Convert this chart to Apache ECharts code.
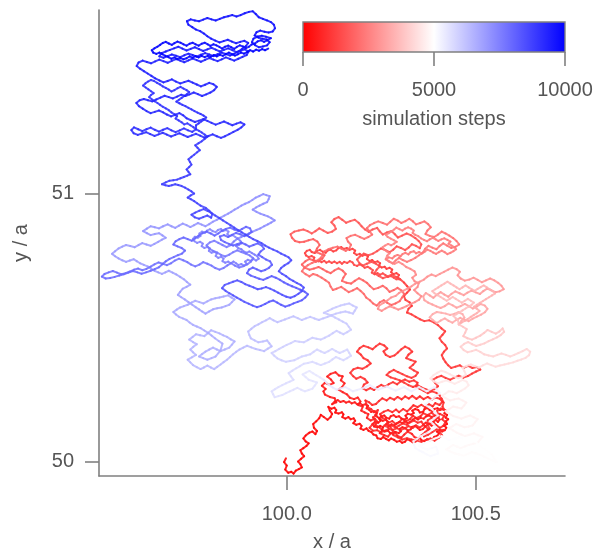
<!DOCTYPE html>
<html><head><meta charset="utf-8">
<script src="https://cdn.jsdelivr.net/npm/echarts@6/dist/echarts.min.js"></script>
<style>html,body{margin:0;padding:0;background:#fff}#chart{width:593px;height:550px}</style>
</head><body><div id="chart"></div>
<script>
// ---- axis / colorbar ticks ----
const xTicks = [100.0, 100.5];
const yTicks = [50, 51];
const colorbarTicks = [0, 5000, 10000];
const xRange = [99.5034, 100.736];
const yRange = [49.946, 51.685];
const stepRange = [0, 10000];

// ---- random-walk trajectory in phases (x / a, y / a) ----
// simulation step at the start of each phase (last value = end of simulation)
const phaseSteps = [0, 150, 1100, 2600, 3800, 4600, 5300, 5800, 6600, 7300, 8700, 8900, 10000];

const walkA = [[99.998,50.012],[99.993,49.998],[100.000,49.985],[99.996,49.970],[100.004,49.958],[100.012,49.962],[100.018,49.955],[100.024,49.966],[100.032,49.972],[100.040,49.978],[100.036,49.990],[100.030,50.000],[100.038,50.010],[100.046,50.020],[100.040,50.030],[100.036,50.042],[100.044,50.050],[100.052,50.058],[100.058,50.068],[100.050,50.075],[100.044,50.086],[100.050,50.097],[100.060,50.108],[100.068,50.112],[100.076,50.102],[100.080,50.114],[100.072,50.126],[100.070,50.140],[100.078,50.150],[100.086,50.162],[100.090,50.174],[100.098,50.166],[100.108,50.156],[100.116,50.166],[100.120,50.178],[100.114,50.190],[100.110,50.204]];

const tangleRedLow = [[100.118,50.197],[100.126,50.201],[100.131,50.192],[100.128,50.183],[100.137,50.179],[100.146,50.184],[100.150,50.176],[100.147,50.166],[100.155,50.160],[100.163,50.166],[100.169,50.158],[100.177,50.161],[100.181,50.152],[100.176,50.143],[100.184,50.137],[100.193,50.141],[100.198,50.133],[100.195,50.123],[100.203,50.118],[100.211,50.124],[100.216,50.115],[100.224,50.110],[100.229,50.101],[100.237,50.097],[100.240,50.087],[100.249,50.084],[100.255,50.091],[100.262,50.085],[100.270,50.079],[100.276,50.086],[100.284,50.081],[100.291,50.074],[100.299,50.077],[100.305,50.070],[100.313,50.074],[100.318,50.083],[100.326,50.079],[100.333,50.072],[100.341,50.075],[100.344,50.084],[100.352,50.088],[100.356,50.080],[100.364,50.076],[100.371,50.083],[100.378,50.079],[100.386,50.083],[100.390,50.092],[100.398,50.096],[100.403,50.105],[100.397,50.112],[100.405,50.118],[100.411,50.112],[100.418,50.117],[100.422,50.126],[100.417,50.134],[100.424,50.140],[100.421,50.150],[100.427,50.158],[100.420,50.164],[100.424,50.174],[100.417,50.180],[100.421,50.190],[100.413,50.196],[100.405,50.192],[100.399,50.199],[100.390,50.196],[100.386,50.187],[100.378,50.192],[100.372,50.200],[100.364,50.195],[100.361,50.186],[100.352,50.183],[100.348,50.192],[100.340,50.196],[100.332,50.190],[100.336,50.181],[100.329,50.175],[100.320,50.178],[100.314,50.171],[100.318,50.162],[100.311,50.156],[100.303,50.161],[100.297,50.169],[100.289,50.166],[100.283,50.173],[100.275,50.169],[100.271,50.160],[100.263,50.164],[100.258,50.172],[100.250,50.169],[100.244,50.161],[100.248,50.152],[100.242,50.145],[100.233,50.148],[100.227,50.140],[100.231,50.131],[100.240,50.127],[100.247,50.133],[100.255,50.128],[100.252,50.119],[100.259,50.112],[100.268,50.115],[100.273,50.107],[100.281,50.103],[100.288,50.110],[100.296,50.106],[100.302,50.113],[100.299,50.122],[100.306,50.128],[100.314,50.124],[100.320,50.116],[100.328,50.120],[100.331,50.129],[100.339,50.133],[100.346,50.126],[100.352,50.118],[100.360,50.121],[100.366,50.130],[100.361,50.138],[100.368,50.145],[100.376,50.141],[100.383,50.134],[100.390,50.139],[100.387,50.148],[100.394,50.155],[100.400,50.148],[100.405,50.157],[100.398,50.164],[100.391,50.170],[100.383,50.166],[100.376,50.172],[100.368,50.168],[100.362,50.160],[100.354,50.163],[100.347,50.157],[100.340,50.162],[100.333,50.156],[100.327,50.148],[100.319,50.144],[100.312,50.149],[100.305,50.143],[100.298,50.148],[100.291,50.142],[100.285,50.135],[100.277,50.139],[100.270,50.133],[100.263,50.139],[100.268,50.148],[100.262,50.156],[100.254,50.152],[100.247,50.158],[100.240,50.166],[100.234,50.173],[100.238,50.182],[100.231,50.188],[100.223,50.185],[100.218,50.193],[100.211,50.199],[100.215,50.208],[100.208,50.214],[100.200,50.210],[100.194,50.218],[100.186,50.214],[100.180,50.221],[100.172,50.217],[100.165,50.224],[100.157,50.220],[100.150,50.226],[100.142,50.222],[100.135,50.229],[100.127,50.224]];

const walkBmain = [[100.120,50.214],[100.131,50.221],[100.127,50.236],[100.114,50.241],[100.101,50.250],[100.097,50.262],[100.103,50.271],[100.093,50.283],[100.101,50.294],[100.113,50.286],[100.124,50.293],[100.117,50.306],[100.107,50.317],[100.116,50.327],[100.129,50.333],[100.138,50.321],[100.148,50.318],[100.143,50.303],[100.153,50.292],[100.147,50.279],[100.137,50.268],[100.148,50.259],[100.159,50.251],[100.167,50.238],[100.178,50.233],[100.188,50.239],[100.195,50.224],[100.189,50.211],[100.201,50.205],[100.197,50.190],
[100.206,50.183],[100.216,50.177],[100.212,50.163],[100.222,50.153],[100.233,50.160],[100.240,50.148],[100.234,50.136],[100.245,50.128],[100.253,50.117],[100.246,50.106],[100.258,50.098],[100.268,50.093],[100.275,50.105],[100.286,50.111],[100.292,50.097],[100.303,50.089],[100.311,50.101],[100.320,50.112],[100.331,50.103],[100.338,50.091],[100.349,50.086],[100.357,50.099],[100.366,50.109],[100.374,50.120],[100.367,50.132],[100.377,50.141],[100.388,50.147],[100.396,50.135],[100.405,50.126],[100.414,50.133],[100.420,50.147],[100.411,50.158],[100.416,50.170],[100.405,50.178],[100.393,50.171],[100.383,50.182],[100.372,50.173],[100.361,50.181],[100.354,50.169],[100.343,50.162],[100.334,50.171],[100.326,50.158],[100.316,50.151],[100.305,50.159],[100.298,50.147],[100.288,50.140],[100.279,50.151],[100.269,50.145],[100.262,50.157],[100.252,50.164],[100.247,50.177],[100.257,50.186],[100.268,50.192],[100.279,50.184],[100.289,50.194],[100.297,50.184],[100.308,50.196],[100.318,50.187],[100.327,50.198],[100.335,50.210],[100.346,50.203],[100.356,50.212],[100.366,50.203],[100.376,50.214],[100.386,50.206],[100.393,50.218],[100.404,50.211],[100.412,50.223],[100.405,50.234],[100.393,50.239],[100.384,50.231],[100.373,50.241],[100.362,50.233],[100.352,50.243],[100.343,50.234],[100.332,50.245],[100.323,50.235],[100.313,50.243],[100.304,50.232],[100.293,50.241],[100.284,50.231],[100.273,50.238],[100.264,50.228],[100.253,50.236],[100.244,50.226],[100.236,50.215],[100.226,50.211],[100.218,50.221],[100.208,50.228],[100.213,50.204],[100.223,50.196],[100.231,50.184],[100.241,50.192],[100.237,50.172],[100.228,50.165],
[100.236,50.146],[100.226,50.138],[100.219,50.126],[100.228,50.115],[100.239,50.117],[100.249,50.109],[100.260,50.115],[100.270,50.122],[100.281,50.118],[100.292,50.125],[100.300,50.116],[100.312,50.124],[100.322,50.132],[100.333,50.125],[100.342,50.135],[100.352,50.127],[100.362,50.137],[100.356,50.149],[100.346,50.145],[100.337,50.153],[100.326,50.146],[100.318,50.137],[100.308,50.142],[100.297,50.134],[100.287,50.128],[100.277,50.135],[100.268,50.128],[100.258,50.134],[100.266,50.143],[100.274,50.130],[100.280,50.116],[100.282,50.099],
[100.294,50.090],[100.305,50.082],[100.318,50.087],[100.330,50.082],[100.343,50.078],[100.356,50.074],[100.368,50.080],[100.380,50.086],[100.391,50.078],[100.402,50.088],[100.411,50.098],[100.404,50.110],[100.415,50.118],[100.396,50.120],[100.385,50.110],[100.374,50.100],[100.363,50.094],[100.370,50.108],[100.378,50.122],[100.372,50.138],[100.373,50.154],[100.382,50.162],[100.394,50.157],[100.402,50.166],[100.398,50.190],[100.408,50.198],[100.417,50.192],[100.412,50.205],[100.415,50.220],[100.410,50.234],
[100.405,50.246],[100.396,50.256],[100.384,50.262],[100.373,50.255],[100.362,50.264],[100.351,50.272],[100.341,50.281],[100.346,50.294],[100.336,50.303],[100.324,50.298],[100.313,50.306],[100.301,50.299],[100.292,50.288],[100.281,50.296],[100.270,50.289],[100.260,50.279],[100.250,50.286],[100.240,50.278],[100.231,50.267],[100.221,50.274],[100.210,50.266],[100.200,50.274],[100.204,50.287],[100.214,50.295],[100.206,50.308],[100.195,50.316],[100.184,50.309],[100.176,50.318],[100.168,50.331],[100.176,50.344],[100.188,50.350],[100.200,50.346],[100.212,50.355],[100.222,50.366],[100.214,50.378],[100.203,50.386],[100.196,50.399],[100.186,50.410],[100.193,50.423],[100.203,50.432],[100.216,50.426],[100.227,50.419],[100.236,50.430],[100.246,50.440],[100.258,50.433],[100.266,50.422],[100.256,50.411],[100.262,50.398],[100.273,50.390],[100.285,50.396],[100.294,50.407],[100.303,50.419],[100.313,50.429],[100.324,50.421],[100.332,50.410],[100.322,50.399],[100.316,50.386],[100.328,50.379],[100.341,50.373],[100.334,50.361],[100.325,50.350],[100.336,50.340],[100.347,50.332],[100.341,50.320],[100.330,50.312],[100.318,50.318],[100.306,50.326],[100.294,50.334],[100.283,50.342],[100.272,50.334],[100.264,50.323],[100.275,50.314],[100.287,50.309],[100.299,50.303],[100.311,50.294],[100.322,50.285],[100.334,50.278],[100.346,50.285],[100.356,50.277],[100.367,50.270],[100.379,50.264],[100.391,50.270],[100.400,50.281],[100.393,50.293],[100.386,50.305],[100.397,50.314],[100.409,50.320],[100.420,50.312],[100.432,50.305],[100.443,50.313],[100.455,50.320],[100.467,50.313],[100.479,50.319],[100.490,50.328],[100.501,50.336],[100.512,50.343],[100.503,50.353],[100.491,50.349],[100.480,50.357],[100.468,50.350],[100.458,50.359],[100.446,50.354],[100.435,50.349],[100.427,50.359],[100.420,50.371],[100.414,50.384],[100.410,50.397],[100.416,50.410],[100.424,50.422],[100.419,50.435],[100.410,50.447],[100.404,50.460],[100.412,50.473],[100.419,50.486],[100.409,50.497],[100.400,50.509],[100.389,50.519],[100.377,50.527],[100.364,50.524],[100.352,50.531],[100.341,50.540],[100.330,50.549],[100.318,50.556],[100.322,50.570],[100.331,50.581],[100.325,50.594],[100.314,50.603],[100.310,50.617],[100.318,50.630],[100.326,50.642],[100.318,50.655],[100.310,50.668]];

const tangleRedHigh = [[100.300,50.680],[100.293,50.687],[100.297,50.696],[100.290,50.703],[100.282,50.699],[100.276,50.707],[100.279,50.716],[100.272,50.723],[100.264,50.719],[100.259,50.727],[100.251,50.724],[100.244,50.731],[100.247,50.740],[100.240,50.747],[100.232,50.744],[100.226,50.752],[100.219,50.748],[100.212,50.756],[100.215,50.765],[100.208,50.772],[100.200,50.768],[100.193,50.775],[100.185,50.771],[100.178,50.778],[100.181,50.787],[100.174,50.794],[100.166,50.790],[100.159,50.797],[100.151,50.793],[100.144,50.800],[100.136,50.796],[100.131,50.788],[100.123,50.784],[100.116,50.791],[100.108,50.787],[100.103,50.779],[100.095,50.783],[100.088,50.790],[100.080,50.786],[100.074,50.778],[100.066,50.782],[100.061,50.790],[100.053,50.786],[100.048,50.778],[100.051,50.769],[100.058,50.763],[100.066,50.767],[100.073,50.761],[100.070,50.752],[100.077,50.746],[100.085,50.750],[100.092,50.744],[100.099,50.749],[100.105,50.742],[100.112,50.747],[100.119,50.741],[100.126,50.746],[100.133,50.740],[100.140,50.745],[100.146,50.738],[100.152,50.745],[100.160,50.741],[100.167,50.748],[100.174,50.743],[100.178,50.734],[100.186,50.730],[100.193,50.736],[100.200,50.731],[100.206,50.723],[100.214,50.727],[100.221,50.721],[100.228,50.714],[100.225,50.705],[100.232,50.699],[100.240,50.703],[100.247,50.697],[100.254,50.702],[100.261,50.696],[100.268,50.689],[100.276,50.692],[100.283,50.686],[100.290,50.680]];

const walkCmain = [[100.300,50.680],[100.289,50.689],[100.277,50.697],[100.266,50.690],[100.254,50.684],[100.243,50.693],[100.232,50.703],[100.238,50.716],[100.246,50.728],[100.236,50.738],[100.224,50.745],[100.212,50.738],[100.201,50.731],[100.192,50.741],[100.186,50.754],[100.194,50.766],[100.204,50.776],[100.216,50.770],[100.228,50.776],[100.239,50.785],[100.249,50.795],[100.261,50.789],[100.272,50.781],[100.282,50.791],[100.291,50.803],[100.302,50.797],[100.313,50.789],[100.323,50.799],[100.331,50.811],[100.342,50.805],[100.352,50.796],[100.356,50.810],[100.349,50.823],[100.340,50.834],[100.328,50.845],[100.317,50.851],[100.305,50.843],[100.294,50.836],[100.286,50.848],[100.277,50.860],[100.265,50.855],[100.254,50.847],[100.246,50.859],[100.239,50.872],[100.227,50.866],[100.217,50.857],[100.207,50.866],[100.198,50.878],[100.190,50.891],[100.180,50.902],[100.168,50.897],[100.157,50.891],[100.147,50.902],[100.137,50.912],[100.126,50.905],[100.118,50.893],[100.126,50.881],[100.130,50.868],[100.120,50.858],[100.108,50.853],[100.097,50.862],[100.086,50.870],[100.076,50.860],[100.066,50.851],[100.055,50.860],[100.044,50.866],[100.032,50.862],[100.020,50.858],[100.010,50.848],[100.014,50.835],[100.022,50.823],[100.034,50.818],[100.046,50.820],[100.058,50.826],[100.070,50.830],[100.081,50.821],[100.087,50.808],[100.080,50.795],[100.076,50.782],[100.088,50.776],[100.100,50.770],[100.094,50.757],[100.084,50.747],[100.072,50.750],[100.060,50.756],[100.049,50.747],[100.040,50.735],[100.048,50.723],[100.060,50.716],[100.072,50.720],[100.084,50.726],[100.095,50.718],[100.106,50.709],[100.116,50.703],[100.126,50.713],[100.137,50.721],[100.148,50.712],[100.156,50.700],[100.150,50.687],[100.146,50.674],[100.158,50.667],[100.170,50.664],[100.180,50.674],[100.191,50.684],[100.202,50.676],[100.212,50.667],[100.220,50.655],[100.230,50.643],[100.242,50.648],[100.254,50.656],[100.264,50.646],[100.272,50.633],[100.283,50.640],[100.293,50.648],[100.304,50.638],[100.311,50.625],[100.305,50.612],[100.299,50.599],[100.288,50.590],[100.277,50.584],[100.266,50.592],[100.257,50.602],[100.246,50.594],[100.238,50.582],[100.228,50.590],[100.220,50.602],[100.210,50.612],[100.204,50.625],[100.195,50.637],[100.186,50.647],[100.175,50.639],[100.164,50.632],[100.154,50.642],[100.144,50.652],[100.132,50.645],[100.122,50.640],[100.116,50.653],[100.112,50.667],[100.102,50.677],[100.092,50.686],[100.081,50.695],[100.070,50.700],[100.060,50.691],[100.050,50.699],[100.040,50.710],[100.046,50.722],[100.056,50.733],[100.067,50.741],[100.078,50.748],[100.089,50.758],[100.095,50.771],[100.099,50.784],[100.110,50.792],[100.122,50.798],[100.134,50.802],[100.145,50.794],[100.156,50.786],[100.166,50.796],[100.170,50.809],[100.162,50.821],[100.158,50.834],[100.169,50.842],[100.181,50.846],[100.193,50.838],[100.205,50.831],[100.216,50.838],[100.226,50.847],[100.219,50.859],[100.212,50.871],[100.220,50.882],[100.231,50.890],[100.242,50.896],[100.254,50.890],[100.265,50.884],[100.274,50.895],[100.283,50.906],[100.294,50.899],[100.303,50.890],[100.314,50.897],[100.324,50.906],[100.334,50.896],[100.342,50.885],[100.353,50.890],[100.364,50.896],[100.374,50.886],[100.381,50.874],[100.372,50.862],[100.367,50.849],[100.378,50.842],[100.390,50.838],[100.400,50.847],[100.410,50.858],[100.420,50.851],[100.430,50.843],[100.440,50.834],[100.449,50.823],[100.456,50.810],[100.446,50.801],[100.435,50.797],[100.424,50.806],[100.414,50.814],[100.404,50.804],[100.396,50.792],[100.385,50.798],[100.375,50.805],[100.366,50.794],[100.360,50.780],[100.350,50.770],[100.340,50.760],[100.329,50.752],[100.318,50.745],[100.307,50.752],[100.297,50.760],[100.288,50.750],[100.280,50.739],[100.270,50.747],[100.262,50.755]];

const tangleRedEast = [[100.270,50.762],[100.279,50.758],[100.285,50.766],[100.293,50.771],[100.301,50.766],[100.306,50.774],[100.314,50.779],[100.322,50.773],[100.327,50.781],[100.336,50.785],[100.342,50.777],[100.350,50.782],[100.357,50.776],[100.365,50.783],[100.372,50.791],[100.380,50.786],[100.387,50.780],[100.395,50.775],[100.402,50.781],[100.410,50.787],[100.418,50.781],[100.425,50.774],[100.433,50.779],[100.441,50.785],[100.448,50.792],[100.443,50.800],[100.436,50.806],[100.428,50.813],[100.433,50.821],[100.425,50.827],[100.417,50.833],[100.409,50.829],[100.401,50.823],[100.394,50.829],[100.386,50.835],[100.378,50.829],[100.371,50.822],[100.363,50.827],[100.355,50.833],[100.348,50.841],[100.340,50.846],[100.333,50.853],[100.336,50.862],[100.329,50.869],[100.321,50.874],[100.313,50.869],[100.306,50.862],[100.298,50.867],[100.290,50.873],[100.284,50.866],[100.277,50.859],[100.270,50.852],[100.262,50.846],[100.267,50.838],[100.275,50.832],[100.283,50.826],[100.291,50.820],[100.284,50.813],[100.276,50.807],[100.268,50.812],[100.260,50.806],[100.253,50.799],[100.258,50.791],[100.265,50.784],[100.272,50.777],[100.266,50.769],[100.262,50.755]];

const walkDmain = [[100.262,50.755],[100.273,50.745],[100.285,50.738],[100.296,50.745],[100.306,50.737],[100.316,50.726],[100.327,50.719],[100.338,50.710],[100.342,50.697],[100.332,50.686],[100.338,50.673],[100.349,50.665],[100.346,50.651],[100.337,50.640],[100.346,50.628],[100.356,50.617],[100.350,50.604],[100.339,50.595],[100.328,50.588],[100.317,50.580],[100.306,50.573],[100.295,50.567],[100.284,50.574],[100.272,50.579],[100.261,50.571],[100.251,50.562],[100.241,50.570],[100.245,50.583],[100.256,50.592],[100.266,50.601],[100.276,50.612],[100.288,50.618],[100.297,50.629],[100.308,50.637],[100.319,50.645],[100.330,50.654],[100.340,50.664],[100.352,50.671],[100.363,50.679],[100.372,50.690],[100.383,50.698],[100.394,50.692],[100.405,50.700],[100.416,50.708],[100.427,50.716],[100.438,50.724],[100.449,50.718],[100.458,50.708],[100.452,50.695],[100.460,50.683],[100.471,50.675],[100.483,50.679],[100.494,50.686],[100.505,50.678],[100.516,50.669],[100.527,50.676],[100.538,50.683],[100.549,50.676],[100.559,50.667],[100.568,50.656],[100.574,50.643],[100.563,50.635],[100.552,50.632],[100.541,50.639],[100.530,50.645],[100.520,50.636],[100.511,50.625],[100.500,50.631],[100.489,50.638],[100.478,50.630],[100.468,50.621],[100.457,50.628],[100.446,50.635],[100.436,50.626],[100.427,50.615],[100.417,50.623],[100.407,50.632],[100.397,50.622],[100.388,50.611],[100.378,50.620],[100.368,50.629],[100.361,50.616],[100.364,50.602],[100.374,50.593],[100.385,50.586],[100.396,50.579],[100.407,50.573],[100.418,50.580],[100.428,50.590],[100.439,50.583],[100.449,50.574],[100.460,50.580],[100.471,50.588],[100.482,50.580],[100.492,50.571],[100.503,50.579],[100.513,50.588],[100.524,50.582],[100.531,50.570],[100.524,50.557],[100.514,50.548],[100.503,50.541],[100.492,50.533],[100.481,50.524],[100.470,50.529],[100.459,50.536],[100.448,50.528],[100.438,50.518],[100.428,50.525],[100.418,50.534],[100.407,50.526],[100.397,50.517],[100.387,50.527],[100.378,50.538],[100.386,50.550],[100.397,50.558],[100.409,50.555],[100.421,50.552],[100.432,50.547],[100.443,50.551],[100.454,50.557],[100.465,50.550],[100.470,50.537],[100.462,50.525],[100.455,50.512]];

const tanglePink = [[100.463,50.519],[100.471,50.525],[100.479,50.532],[100.487,50.540],[100.495,50.547],[100.503,50.554],[100.510,50.562],[100.503,50.570],[100.495,50.577],[100.503,50.585],[100.511,50.592],[100.519,50.599],[100.527,50.606],[100.535,50.613],[100.543,50.620],[100.551,50.627],[100.545,50.636],[100.537,50.643],[100.529,50.650],[100.521,50.657],[100.513,50.651],[100.505,50.644],[100.497,50.637],[100.489,50.643],[100.481,50.650],[100.473,50.657],[100.465,50.650],[100.457,50.643],[100.449,50.650],[100.441,50.657],[100.433,50.664],[100.425,50.671],[100.417,50.664],[100.409,50.657],[100.401,50.650],[100.393,50.643],[100.385,50.636],[100.391,50.628],[100.399,50.621],[100.407,50.614],[100.415,50.607],[100.423,50.600],[100.431,50.607],[100.439,50.614],[100.447,50.607],[100.455,50.600],[100.463,50.593],[100.471,50.600],[100.479,50.607],[100.487,50.600],[100.495,50.593],[100.489,50.585],[100.481,50.578],[100.473,50.571],[100.465,50.564],[100.457,50.557],[100.449,50.550],[100.441,50.543],[100.447,50.535],[100.453,50.526],[100.455,50.512]];

const walkE = [[100.455,50.512],[100.466,50.503],[100.476,50.494],[100.472,50.481],[100.467,50.468],[100.478,50.460],[100.490,50.455],[100.501,50.462],[100.512,50.470],[100.522,50.480],[100.531,50.491],[100.542,50.484],[100.553,50.477],[100.563,50.486],[100.571,50.497],[100.575,50.484],[100.566,50.472],[100.556,50.463],[100.545,50.456],[100.534,50.449],[100.523,50.441],[100.512,50.436],[100.501,50.431],[100.490,50.438],[100.480,50.446],[100.469,50.439],[100.460,50.428],[100.468,50.416],[100.478,50.408],[100.490,50.412],[100.501,50.417],[100.512,50.409],[100.522,50.400],[100.534,50.396],[100.546,50.392],[100.557,50.398],[100.568,50.403],[100.580,50.398],[100.591,50.392],[100.602,50.398],[100.613,50.405],[100.624,50.412],[100.635,50.420],[100.644,50.410],[100.641,50.397],[100.632,50.387],[100.621,50.381],[100.610,50.376],[100.599,50.370],[100.587,50.366],[100.576,50.362],[100.564,50.358],[100.552,50.354],[100.541,50.360],[100.530,50.366],[100.519,50.359],[100.509,50.351],[100.498,50.356],[100.487,50.362],[100.476,50.357],[100.465,50.350],[100.470,50.337],[100.474,50.324],[100.464,50.315],[100.453,50.311],[100.442,50.318],[100.431,50.326],[100.420,50.334],[100.409,50.339],[100.398,50.331],[100.388,50.322],[100.380,50.310],[100.389,50.299],[100.400,50.292],[100.411,50.298],[100.422,50.303],[100.433,50.297],[100.444,50.290],[100.455,50.297],[100.465,50.305],[100.476,50.298],[100.481,50.285],[100.472,50.273]];

const walkF = [[100.472,50.273],[100.461,50.264],[100.450,50.255],[100.439,50.260],[100.428,50.262],[100.419,50.253],[100.410,50.245],[100.421,50.236],[100.432,50.228],[100.443,50.232],[100.455,50.235],[100.465,50.228],[100.475,50.220],[100.469,50.209],[100.462,50.198],[100.451,50.202],[100.440,50.205],[100.430,50.196],[100.420,50.188],[100.430,50.179],[100.440,50.170],[100.451,50.165],[100.462,50.160],[100.473,50.166],[100.485,50.172],[100.495,50.165],[100.505,50.158],[100.498,50.146],[100.492,50.135],[100.481,50.131],[100.470,50.128],[100.459,50.134],[100.448,50.140],[100.439,50.132],[100.430,50.125],[100.440,50.116],[100.450,50.108],[100.461,50.101],[100.472,50.095],[100.483,50.100],[100.495,50.105],[100.506,50.098],[100.518,50.092],[100.511,50.081],[100.505,50.070],[100.493,50.066],[100.482,50.062],[100.471,50.056],[100.460,50.050],[100.450,50.056],[100.440,50.062],[100.431,50.053],[100.422,50.045],[100.433,50.037],[100.445,50.030],[100.456,50.026],[100.468,50.022],[100.479,50.028],[100.490,50.035],[100.501,50.030],[100.512,50.025],[100.523,50.017],[100.535,50.010],[100.545,50.004],[100.555,49.998],[100.548,50.014],[100.540,50.030],[100.530,50.040],[100.520,50.050],[100.509,50.062],[100.498,50.075],[100.486,50.079],[100.475,50.082],[100.465,50.086],[100.455,50.090],[100.443,50.085],[100.430,50.080],[100.420,50.088],[100.410,50.095],[100.400,50.090],[100.390,50.085],[100.379,50.078],[100.368,50.070],[100.359,50.064],[100.350,50.058],[100.361,50.051],[100.372,50.045],[100.384,50.050],[100.395,50.055],[100.398,50.042],[100.400,50.030],[100.390,50.025],[100.380,50.020],[100.370,50.027],[100.360,50.035],[100.350,50.042],[100.340,50.050],[100.337,50.062],[100.335,50.075],[100.345,50.085],[100.355,50.095],[100.365,50.102],[100.375,50.110],[100.385,50.119],[100.395,50.128],[100.388,50.139],[100.380,50.150],[100.390,50.161],[100.400,50.172],[100.392,50.184],[100.385,50.195],[100.375,50.204],[100.365,50.212],[100.375,50.222],[100.385,50.232],[100.395,50.244],[100.405,50.255],[100.398,50.267],[100.390,50.278],[100.380,50.270],[100.370,50.262],[100.360,50.270],[100.350,50.278],[100.340,50.270],[100.330,50.262]];

const walkG = [[100.330,50.262],[100.320,50.270],[100.310,50.278],[100.299,50.271],[100.288,50.265],[100.276,50.272],[100.265,50.280],[100.253,50.274],[100.242,50.268],[100.231,50.276],[100.220,50.285],[100.209,50.278],[100.198,50.272],[100.186,50.267],[100.175,50.262],[100.165,50.270],[100.155,50.278],[100.143,50.273],[100.132,50.268],[100.122,50.276],[100.112,50.285],[100.105,50.295],[100.098,50.305],[100.088,50.314],[100.078,50.322],[100.069,50.330],[100.060,50.338],[100.051,50.332],[100.042,50.325],[100.050,50.315],[100.058,50.305],[100.069,50.300],[100.080,50.295],[100.074,50.283],[100.068,50.272],[100.058,50.267],[100.048,50.262],[100.038,50.268],[100.028,50.275],[100.018,50.268],[100.008,50.262],[99.998,50.255],[99.988,50.248],[99.978,50.244],[99.968,50.240],[99.964,50.251],[99.960,50.262],[99.969,50.270],[99.978,50.278],[99.988,50.285],[99.998,50.292],[100.008,50.298],[100.018,50.305],[100.011,50.318],[100.005,50.330],[100.015,50.339],[100.025,50.348],[100.035,50.356],[100.045,50.365],[100.056,50.368],[100.068,50.372],[100.079,50.366],[100.090,50.360],[100.101,50.366],[100.112,50.372],[100.121,50.381],[100.130,50.390],[100.140,50.384],[100.150,50.378]];

const walkH = [[100.150,50.378],[100.160,50.386],[100.170,50.395],[100.165,50.406],[100.160,50.418],[100.150,50.411],[100.140,50.405],[100.130,50.412],[100.120,50.420],[100.110,50.412],[100.100,50.405],[100.090,50.411],[100.080,50.418],[100.071,50.409],[100.062,50.400],[100.051,50.396],[100.040,50.392],[100.030,50.385],[100.020,50.378],[100.009,50.375],[99.998,50.372],[99.986,50.378],[99.975,50.385],[99.967,50.395],[99.960,50.405],[99.970,50.412],[99.980,50.420],[99.990,50.428],[100.000,50.435],[100.011,50.442],[100.022,50.450],[100.033,50.447],[100.045,50.445],[100.056,50.453],[100.068,50.462],[100.079,50.458],[100.090,50.455],[100.101,50.462],[100.112,50.470],[100.122,50.479],[100.132,50.488],[100.141,50.481],[100.150,50.475],[100.160,50.483],[100.170,50.492],[100.164,50.503],[100.158,50.515],[100.148,50.522],[100.138,50.530],[100.128,50.537],[100.118,50.545],[100.108,50.550],[100.098,50.555],[100.109,50.562],[100.120,50.570],[100.131,50.576],[100.142,50.582],[100.153,50.586],[100.165,50.590],[100.175,50.582],[100.185,50.575],[100.180,50.563],[100.175,50.552],[100.165,50.556],[100.155,50.560],[100.142,50.556],[100.130,50.552],[100.119,50.546],[100.108,50.540],[100.096,50.534],[100.085,50.528],[100.073,50.534],[100.062,50.540],[100.051,50.534],[100.040,50.528],[100.029,50.535],[100.018,50.542],[100.006,50.536],[99.995,50.530],[99.985,50.525],[99.975,50.520],[99.965,50.527],[99.955,50.535],[99.945,50.527],[99.935,50.520],[99.925,50.512],[99.915,50.505],[99.906,50.495],[99.898,50.485],[99.901,50.472],[99.905,50.460],[99.915,50.452],[99.925,50.445],[99.937,50.448],[99.948,50.452],[99.954,50.441],[99.960,50.430],[99.950,50.421],[99.940,50.412],[99.929,50.416],[99.918,50.420],[99.906,50.426],[99.895,50.432],[99.885,50.425],[99.875,50.418],[99.866,50.409],[99.858,50.400],[99.850,50.390],[99.842,50.380],[99.833,50.371],[99.825,50.362],[99.816,50.353],[99.808,50.345],[99.799,50.351],[99.790,50.358],[99.781,50.351],[99.772,50.345],[99.762,50.352],[99.752,50.360],[99.745,50.370],[99.738,50.380],[99.749,50.389],[99.760,50.398],[99.752,50.408],[99.745,50.418],[99.753,50.428],[99.762,50.438],[99.752,50.446],[99.742,50.455],[99.751,50.465],[99.760,50.475],[99.771,50.471],[99.782,50.468],[99.791,50.479],[99.800,50.490],[99.811,50.484],[99.822,50.478],[99.832,50.471],[99.842,50.465],[99.852,50.456],[99.862,50.448],[99.855,50.436],[99.848,50.425],[99.836,50.418],[99.825,50.412],[99.815,50.418],[99.805,50.425],[99.795,50.418],[99.785,50.410],[99.776,50.401],[99.768,50.392],[99.779,50.386],[99.790,50.380],[99.801,50.386],[99.812,50.392],[99.825,50.415],[99.830,50.440],[99.820,50.450],[99.810,50.460]];

const walkI = [[99.810,50.460],[99.801,50.470],[99.792,50.480],[99.782,50.489],[99.772,50.498],[99.762,50.504],[99.752,50.510],[99.743,50.519],[99.735,50.528],[99.725,50.534],[99.715,50.540],[99.707,50.549],[99.700,50.558],[99.709,50.567],[99.718,50.575],[99.728,50.580],[99.738,50.585],[99.748,50.593],[99.758,50.600],[99.769,50.595],[99.780,50.590],[99.790,50.598],[99.800,50.605],[99.811,50.609],[99.822,50.612],[99.833,50.616],[99.845,50.620],[99.854,50.612],[99.862,50.605],[99.855,50.595],[99.848,50.585],[99.838,50.580],[99.828,50.575],[99.816,50.572],[99.805,50.568],[99.795,50.560],[99.785,50.552],[99.776,50.560],[99.768,50.568],[99.759,50.576],[99.750,50.585],[99.740,50.595],[99.730,50.605],[99.721,50.613],[99.712,50.622],[99.718,50.633],[99.725,50.645],[99.735,50.652],[99.745,50.660],[99.736,50.670],[99.728,50.680],[99.718,50.689],[99.708,50.698],[99.698,50.705],[99.688,50.712],[99.679,50.706],[99.670,50.700],[99.660,50.706],[99.650,50.712],[99.641,50.720],[99.632,50.728],[99.622,50.734],[99.612,50.740],[99.603,50.748],[99.595,50.755],[99.585,50.750],[99.575,50.745],[99.565,50.751],[99.555,50.758],[99.546,50.766],[99.538,50.775],[99.546,50.785],[99.555,50.795],[99.565,50.802],[99.575,50.808],[99.586,50.804],[99.598,50.800],[99.608,50.808],[99.618,50.815],[99.629,50.810],[99.640,50.805],[99.650,50.812],[99.660,50.820],[99.670,50.828],[99.680,50.835],[99.671,50.844],[99.662,50.852],[99.651,50.849],[99.640,50.845],[99.630,50.852],[99.620,50.860],[99.630,50.869],[99.640,50.878],[99.651,50.874],[99.662,50.870],[99.673,50.878],[99.685,50.885],[99.695,50.878],[99.705,50.872],[99.715,50.880],[99.725,50.888],[99.735,50.882],[99.745,50.875],[99.755,50.882],[99.765,50.890],[99.775,50.884],[99.785,50.878],[99.795,50.886],[99.805,50.895],[99.815,50.902],[99.825,50.910],[99.835,50.918],[99.845,50.925],[99.853,50.932],[99.862,50.940],[99.871,50.947],[99.880,50.955],[99.890,50.962],[99.900,50.968],[99.909,50.976],[99.918,50.985],[99.928,50.991],[99.938,50.998],[99.946,50.994],[99.955,50.990],[99.952,50.979],[99.948,50.968],[99.938,50.962],[99.928,50.955],[99.919,50.948],[99.910,50.940],[99.920,50.932],[99.930,50.925],[99.940,50.920],[99.950,50.915],[99.959,50.908],[99.968,50.900],[99.959,50.892],[99.950,50.885],[99.940,50.878],[99.930,50.870],[99.920,50.864],[99.910,50.858],[99.900,50.851],[99.890,50.845],[99.880,50.838],[99.870,50.832]];

const tangleBlue = [[99.864,50.838],[99.857,50.845],[99.849,50.841],[99.843,50.849],[99.846,50.858],[99.839,50.864],[99.831,50.860],[99.826,50.868],[99.818,50.864],[99.812,50.856],[99.804,50.860],[99.797,50.867],[99.789,50.862],[99.784,50.854],[99.776,50.858],[99.769,50.851],[99.772,50.842],[99.765,50.835],[99.757,50.839],[99.752,50.831],[99.756,50.822],[99.763,50.816],[99.771,50.820],[99.778,50.813],[99.775,50.804],[99.782,50.797],[99.790,50.801],[99.797,50.795],[99.794,50.786],[99.801,50.779],[99.809,50.783],[99.815,50.776],[99.812,50.767],[99.819,50.760],[99.827,50.764],[99.833,50.757],[99.830,50.748],[99.837,50.742],[99.845,50.746],[99.852,50.740],[99.859,50.746],[99.866,50.740],[99.872,50.733],[99.880,50.737],[99.887,50.731],[99.894,50.737],[99.890,50.746],[99.897,50.753],[99.905,50.749],[99.912,50.756],[99.919,50.750],[99.926,50.757],[99.922,50.766],[99.915,50.772],[99.908,50.778],[99.901,50.784],[99.894,50.779],[99.886,50.784],[99.880,50.792],[99.872,50.796],[99.866,50.804],[99.874,50.809],[99.881,50.815],[99.877,50.824]];

const walkJmain = [[99.870,50.832],[99.860,50.821],[99.852,50.808],[99.841,50.800],[99.830,50.808],[99.819,50.816],[99.808,50.824],[99.797,50.818],[99.788,50.807],[99.795,50.795],[99.805,50.786],[99.816,50.780],[99.826,50.771],[99.837,50.765],[99.848,50.772],[99.858,50.781],[99.869,50.788],[99.880,50.782],[99.891,50.776],[99.902,50.769],[99.911,50.759],[99.905,50.746],[99.896,50.736],[99.885,50.729],[99.874,50.724],[99.863,50.731],[99.853,50.740],[99.843,50.732],[99.833,50.722],[99.822,50.716],[99.811,50.722],[99.801,50.731],[99.790,50.738],[99.779,50.744],[99.769,50.735],[99.758,50.728],[99.747,50.735],[99.737,50.744],[99.726,50.751],[99.715,50.757],[99.704,50.750],[99.694,50.740],[99.683,50.733],[99.672,50.738],[99.661,50.743],[99.650,50.736],[99.640,50.727],[99.629,50.719],[99.618,50.714],[99.607,50.720],[99.596,50.716],[99.585,50.709],[99.574,50.703],[99.562,50.699],[99.551,50.705],[99.540,50.711],[99.529,50.706],[99.518,50.700],[99.511,50.690],[99.521,50.683],[99.533,50.685],[99.545,50.689],[99.557,50.694],[99.569,50.699],[99.581,50.705],[99.593,50.711],[99.605,50.706],[99.616,50.701],[99.628,50.706],[99.640,50.712],[99.651,50.718],[99.662,50.725],[99.671,50.736],[99.680,50.747],[99.690,50.756],[99.701,50.763],[99.712,50.770],[99.723,50.776],[99.731,50.787],[99.722,50.797],[99.711,50.803],[99.700,50.810],[99.706,50.822],[99.716,50.830],[99.727,50.836],[99.738,50.830],[99.749,50.824],[99.758,50.833],[99.767,50.843],[99.777,50.852],[99.788,50.858],[99.799,50.851],[99.809,50.843],[99.819,50.851],[99.828,50.861],[99.839,50.868],[99.850,50.873],[99.861,50.866],[99.872,50.860],[99.882,50.868],[99.892,50.876],[99.903,50.870],[99.907,50.857],[99.898,50.847],[99.888,50.841],[99.877,50.848],[99.866,50.853],[99.855,50.846],[99.845,50.838],[99.834,50.845],[99.823,50.840],[99.826,50.827],[99.836,50.819],[99.847,50.812],[99.858,50.806],[99.869,50.811],[99.880,50.817],[99.891,50.810],[99.901,50.802],[99.912,50.808],[99.923,50.814],[99.934,50.806],[99.940,50.794],[99.931,50.784],[99.925,50.772],[99.935,50.763],[99.945,50.754],[99.956,50.747],[99.961,50.734],[99.953,50.723],[99.943,50.715],[99.932,50.710],[99.921,50.717],[99.910,50.724],[99.900,50.716],[99.895,50.703],[99.905,50.694],[99.916,50.688],[99.927,50.682],[99.938,50.678],[99.949,50.685],[99.960,50.692],[99.971,50.686],[99.982,50.678],[99.992,50.669],[100.003,50.661],[100.014,50.654],[100.025,50.648],[100.036,50.641],[100.047,50.634],[100.056,50.624],[100.049,50.612],[100.040,50.602],[100.029,50.596],[100.018,50.590],[100.007,50.583],[99.996,50.578],[99.985,50.585],[99.975,50.593],[99.964,50.601],[99.953,50.596],[99.943,50.588],[99.932,50.581],[99.921,50.576],[99.910,50.582],[99.899,50.589],[99.888,50.596],[99.878,50.604],[99.868,50.612],[99.858,50.620],[99.848,50.628],[99.838,50.637],[99.829,50.647],[99.836,50.659],[99.847,50.665],[99.858,50.671],[99.869,50.676],[99.880,50.670],[99.890,50.662],[99.901,50.656],[99.912,50.650],[99.923,50.643],[99.934,50.646],[99.945,50.651],[99.956,50.645],[99.967,50.638],[99.977,50.630],[99.988,50.622],[99.999,50.615],[100.010,50.611],[100.021,50.617],[100.031,50.626],[100.040,50.636],[100.045,50.649],[100.037,50.659],[100.027,50.666],[100.017,50.674],[100.007,50.682],[99.998,50.692],[99.988,50.700],[99.979,50.710],[99.985,50.722],[99.994,50.732],[100.004,50.740],[100.012,50.751],[100.005,50.762],[99.995,50.769],[99.985,50.776],[99.975,50.784],[99.964,50.791],[99.953,50.798],[99.943,50.806],[99.933,50.815],[99.922,50.823],[99.911,50.830],[99.901,50.838],[99.891,50.847],[99.881,50.855],[99.871,50.864],[99.861,50.873],[99.851,50.882],[99.841,50.891],[99.831,50.900],[99.821,50.909],[99.811,50.918],[99.801,50.927],[99.791,50.935],[99.780,50.942],[99.769,50.936],[99.758,50.929],[99.748,50.921],[99.757,50.911],[99.768,50.906],[99.779,50.912],[99.790,50.918],[99.800,50.910],[99.803,50.924],[99.795,50.936],[99.786,50.946],[99.772,50.955]];

const walkK = [[99.772,50.955],[99.763,50.964],[99.755,50.972],[99.746,50.979],[99.738,50.985],[99.746,50.993],[99.755,51.000],[99.748,51.008],[99.740,51.015],[99.731,51.022],[99.722,51.028],[99.713,51.032],[99.705,51.035],[99.696,51.031],[99.688,51.028],[99.679,51.031],[99.670,51.035],[99.680,51.042],[99.690,51.048],[99.700,51.050],[99.710,51.052],[99.719,51.057],[99.728,51.062],[99.737,51.067],[99.745,51.072],[99.740,51.081],[99.735,51.090],[99.742,51.099],[99.748,51.108],[99.744,51.118],[99.740,51.128],[99.748,51.137],[99.755,51.145],[99.763,51.154],[99.770,51.162],[99.764,51.171],[99.758,51.180],[99.767,51.188],[99.775,51.195],[99.783,51.204],[99.790,51.212],[99.783,51.220],[99.775,51.228],[99.768,51.234],[99.760,51.240]];

const tangleTopMid = [[99.753,51.248],[99.745,51.255],[99.737,51.262],[99.729,51.258],[99.722,51.266],[99.714,51.273],[99.706,51.280],[99.710,51.289],[99.703,51.296],[99.695,51.303],[99.688,51.311],[99.680,51.318],[99.672,51.324],[99.665,51.331],[99.658,51.338],[99.650,51.345],[99.643,51.352],[99.636,51.360],[99.641,51.368],[99.648,51.375],[99.641,51.382],[99.634,51.389],[99.627,51.396],[99.620,51.403],[99.626,51.411],[99.633,51.418],[99.641,51.424],[99.649,51.420],[99.657,51.413],[99.665,51.407],[99.672,51.400],[99.680,51.394],[99.688,51.388],[99.695,51.381],[99.703,51.386],[99.711,51.393],[99.719,51.398],[99.727,51.392],[99.735,51.386],[99.742,51.379],[99.736,51.371],[99.729,51.364],[99.722,51.357],[99.715,51.350],[99.708,51.343],[99.716,51.337],[99.724,51.331],[99.732,51.326],[99.740,51.320],[99.748,51.314],[99.756,51.308],[99.764,51.302],[99.772,51.297],[99.780,51.291],[99.787,51.284],[99.781,51.276],[99.774,51.269],[99.767,51.262],[99.760,51.255]];

const walkLmain = [[99.760,51.240],[99.750,51.230],[99.739,51.236],[99.728,51.243],[99.717,51.236],[99.706,51.229],[99.695,51.236],[99.684,51.244],[99.673,51.238],[99.662,51.231],[99.651,51.238],[99.640,51.246],[99.629,51.240],[99.618,51.233],[99.607,51.240],[99.596,51.247],[99.589,51.237],[99.595,51.225],[99.606,51.219],[99.617,51.224],[99.628,51.229],[99.639,51.222],[99.650,51.215],[99.661,51.221],[99.672,51.227],[99.683,51.220],[99.694,51.213],[99.705,51.219],[99.716,51.225],[99.727,51.218],[99.738,51.211],[99.749,51.217],[99.760,51.223],[99.771,51.216],[99.782,51.209],[99.793,51.215],[99.804,51.221],[99.815,51.214],[99.826,51.208],[99.837,51.214],[99.848,51.222],[99.859,51.230],[99.870,51.238],[99.880,51.247],[99.888,51.258],[99.878,51.266],[99.867,51.261],[99.856,51.255],[99.845,51.262],[99.834,51.269],[99.823,51.263],[99.812,51.257],[99.801,51.264],[99.790,51.271],[99.779,51.278],[99.768,51.272],[99.757,51.267],[99.746,51.274],[99.735,51.281],[99.726,51.292],[99.716,51.300],[99.705,51.294],[99.694,51.288],[99.683,51.295],[99.673,51.303],[99.662,51.310],[99.651,51.305],[99.640,51.300],[99.629,51.308],[99.619,51.317],[99.609,51.326],[99.602,51.338],[99.611,51.348],[99.622,51.353],[99.633,51.348],[99.644,51.344],[99.655,51.351],[99.666,51.358],[99.677,51.365],[99.688,51.360],[99.699,51.355],[99.710,51.362],[99.721,51.369],[99.732,51.364],[99.743,51.370],[99.754,51.377],[99.765,51.371],[99.776,51.364],[99.787,51.370],[99.798,51.377],[99.808,51.386],[99.815,51.398],[99.806,51.408],[99.795,51.413],[99.784,51.406],[99.773,51.400],[99.762,51.407],[99.751,51.414],[99.740,51.421],[99.729,51.416],[99.718,51.411],[99.707,51.418],[99.696,51.426],[99.685,51.420],[99.674,51.415],[99.663,51.422],[99.652,51.430],[99.642,51.439],[99.632,51.448],[99.622,51.457],[99.612,51.466],[99.603,51.476],[99.608,51.489],[99.619,51.496],[99.630,51.491],[99.641,51.486],[99.652,51.493],[99.663,51.500],[99.674,51.494],[99.685,51.488],[99.696,51.495],[99.707,51.502],[99.718,51.496],[99.729,51.490],[99.740,51.497],[99.751,51.504],[99.762,51.498],[99.773,51.492],[99.784,51.499],[99.795,51.506],[99.806,51.500],[99.817,51.494],[99.828,51.501],[99.839,51.508],[99.850,51.502],[99.861,51.496],[99.872,51.503],[99.883,51.510],[99.894,51.517],[99.899,51.530],[99.889,51.538],[99.878,51.533],[99.867,51.528],[99.856,51.535],[99.845,51.542],[99.834,51.536],[99.823,51.530],[99.812,51.537],[99.801,51.544],[99.790,51.538],[99.779,51.532],[99.768,51.539],[99.757,51.546],[99.746,51.540],[99.735,51.534],[99.724,51.541],[99.713,51.548],[99.702,51.542],[99.691,51.536],[99.680,51.530],[99.669,51.524],[99.663,51.512],[99.674,51.507],[99.685,51.513],[99.696,51.519],[99.707,51.514],[99.718,51.509],[99.729,51.516],[99.740,51.522],[99.751,51.517],[99.762,51.511],[99.773,51.518],[99.784,51.524],[99.795,51.519],[99.806,51.513],[99.817,51.520],[99.828,51.526],[99.839,51.521],[99.850,51.515],[99.861,51.522],[99.872,51.530],[99.882,51.540],[99.892,51.550],[99.898,51.562],[99.888,51.570],[99.877,51.566],[99.866,51.561],[99.855,51.567],[99.844,51.574],[99.833,51.569],[99.822,51.564],[99.811,51.571],[99.800,51.578],[99.790,51.587],[99.781,51.597],[99.771,51.606],[99.760,51.612],[99.750,51.621],[99.740,51.630],[99.736,51.643],[99.746,51.650],[99.757,51.646],[99.768,51.643],[99.779,51.649],[99.790,51.655],[99.801,51.650],[99.812,51.646],[99.823,51.652],[99.834,51.658],[99.845,51.662],[99.856,51.666],[99.867,51.661],[99.878,51.666],[99.889,51.673],[99.900,51.678],[99.910,51.680],[99.918,51.670],[99.926,51.658],[99.937,51.652],[99.948,51.646],[99.958,51.640],[99.966,51.630],[99.969,51.617],[99.963,51.605],[99.952,51.601],[99.941,51.604],[99.930,51.608],[99.920,51.602],[99.915,51.590],[99.925,51.582],[99.936,51.578],[99.947,51.575],[99.955,51.565],[99.948,51.553],[99.937,51.549],[99.926,51.546],[99.916,51.554],[99.908,51.565],[99.912,51.578],[99.923,51.586],[99.934,51.589],[99.945,51.585],[99.958,51.580]];

const tangleTop = [[99.948,51.572],[99.940,51.566],[99.932,51.572],[99.923,51.568],[99.916,51.560],[99.907,51.556],[99.900,51.548],[99.892,51.543],[99.884,51.549],[99.876,51.553],[99.868,51.547],[99.861,51.540],[99.853,51.546],[99.845,51.552],[99.837,51.548],[99.829,51.541],[99.822,51.547],[99.814,51.553],[99.806,51.557],[99.798,51.551],[99.791,51.557],[99.783,51.563],[99.775,51.559],[99.767,51.552],[99.759,51.557],[99.751,51.563],[99.743,51.559],[99.735,51.552],[99.727,51.557],[99.719,51.563],[99.711,51.567],[99.703,51.561],[99.696,51.555],[99.688,51.560],[99.680,51.566],[99.672,51.562],[99.665,51.555],[99.658,51.548],[99.650,51.542],[99.643,51.535],[99.647,51.526],[99.655,51.521],[99.663,51.526],[99.671,51.520],[99.679,51.514],[99.687,51.509],[99.695,51.503],[99.703,51.508],[99.711,51.502],[99.719,51.506],[99.727,51.501],[99.735,51.505],[99.743,51.512],[99.751,51.507],[99.759,51.513],[99.767,51.508],[99.775,51.514],[99.783,51.509],[99.791,51.514],[99.799,51.510],[99.807,51.517],[99.815,51.512],[99.823,51.518],[99.831,51.514],[99.839,51.520],[99.847,51.526],[99.855,51.520],[99.863,51.515],[99.871,51.520],[99.879,51.526],[99.887,51.522],[99.895,51.528],[99.903,51.535],[99.911,51.530],[99.919,51.537],[99.927,51.533],[99.935,51.539],[99.943,51.535],[99.951,51.541]];

const walkB = tangleRedLow.concat(walkBmain);
const walkC = tangleRedHigh.concat(walkCmain, tangleRedEast);
const walkD = walkDmain.concat(tanglePink);
const walkJ = tangleBlue.concat(walkJmain);
const walkL = tangleTopMid.concat(walkLmain, tangleTop);
const walkPhases = [walkA, walkB, walkC, walkD, walkE, walkF, walkG, walkH, walkI, walkJ, walkK, walkL];

// build consecutive segments [x1, y1, x2, y2, step]
const segments = [];
let prevPt = null;
walkPhases.forEach(function (pts, k) {
  const s0 = phaseSteps[k], s1 = phaseSteps[k + 1];
  pts.forEach(function (p, i) {
    const step = s0 + (s1 - s0) * i / pts.length;
    if (prevPt) segments.push([prevPt[0], prevPt[1], p[0], p[1], step]);
    prevPt = p;
  });
});

const FONT = "'Liberation Sans', Arial, sans-serif";
const AXIS_GRAY = '#808080';
const TEXT_GRAY = '#555555';

const chart = echarts.init(document.getElementById('chart'), null, {renderer: 'canvas'});
chart.setOption({
  animation: false,
  backgroundColor: '#ffffff',
  textStyle: {fontFamily: FONT},
  grid: [
    {left: 99, right: 28, top: 10, bottom: 74, containLabel: false, outerBoundsMode: 'none'},
    {left: 303, top: 22, width: 262, height: 30, containLabel: false, outerBoundsMode: 'none'}
  ],
  xAxis: [
    {
      type: 'value', gridIndex: 0, min: xRange[0], max: xRange[1],
      axisLine: {show: true, onZero: false, lineStyle: {color: AXIS_GRAY, width: 1.6}},
      axisTick: {show: true, customValues: xTicks, length: 14, lineStyle: {color: AXIS_GRAY, width: 1.6}},
      axisLabel: {customValues: xTicks, formatter: function (v) { return Number(v).toFixed(1); },
                  fontSize: 20, color: TEXT_GRAY, margin: 28, fontFamily: FONT},
      splitLine: {show: false},
      name: 'x / a', nameLocation: 'middle', nameGap: 56,
      nameTextStyle: {fontSize: 20, color: TEXT_GRAY, fontFamily: FONT}
    },
    {
      type: 'value', gridIndex: 1, min: stepRange[0], max: stepRange[1], interval: 5000,
      axisLine: {show: false},
      axisTick: {show: true, customValues: colorbarTicks, length: 14, lineStyle: {color: AXIS_GRAY, width: 1.6}},
      axisLabel: {customValues: colorbarTicks, formatter: function (v) { return String(Math.round(v)); },
                  fontSize: 20, color: TEXT_GRAY, margin: 28, fontFamily: FONT},
      splitLine: {show: false},
      name: 'simulation steps', nameLocation: 'middle', nameGap: 57,
      nameTextStyle: {fontSize: 20, color: TEXT_GRAY, fontFamily: FONT}
    }
  ],
  yAxis: [
    {
      type: 'value', gridIndex: 0, min: yRange[0], max: yRange[1],
      axisLine: {show: true, onZero: false, lineStyle: {color: AXIS_GRAY, width: 1.6}},
      axisTick: {show: true, customValues: yTicks, length: 14, lineStyle: {color: AXIS_GRAY, width: 1.6}},
      axisLabel: {customValues: yTicks, formatter: function (v) { return String(Math.round(v)); },
                  fontSize: 20, color: TEXT_GRAY, margin: 25, fontFamily: FONT},
      splitLine: {show: false},
      name: 'y / a', nameLocation: 'middle', nameGap: 68, nameRotate: 90,
      nameTextStyle: {fontSize: 20, color: TEXT_GRAY, fontFamily: FONT}
    },
    {type: 'value', gridIndex: 1, min: 0, max: 1, show: false}
  ],
  visualMap: {
    type: 'continuous', show: false, seriesIndex: 0, dimension: 4,
    min: stepRange[0], max: stepRange[1],
    inRange: {color: ['#ff0000', '#ffffff', '#0000ff']}
  },
  series: [
    {
      type: 'custom', xAxisIndex: 0, yAxisIndex: 0, clip: true,
      data: segments,
      encode: {x: [0, 2], y: [1, 3]},
      renderItem: function (params, api) {
        const p1 = api.coord([api.value(0), api.value(1)]);
        const p2 = api.coord([api.value(2), api.value(3)]);
        return {
          type: 'line',
          shape: {x1: p1[0], y1: p1[1], x2: p2[0], y2: p2[1]},
          style: {stroke: api.visual('color'), lineWidth: 2, opacity: 0.85, lineCap: 'round', lineJoin: 'round'}
        };
      }
    },
    {
      type: 'custom', xAxisIndex: 1, yAxisIndex: 1,
      data: [[stepRange[0], 0, stepRange[1], 1]],
      renderItem: function (params, api) {
        const a = api.coord([api.value(0), api.value(3)]);
        const b = api.coord([api.value(2), api.value(1)]);
        return {
          type: 'rect',
          shape: {x: a[0], y: a[1], width: b[0] - a[0], height: b[1] - a[1]},
          style: {
            fill: new echarts.graphic.LinearGradient(0, 0, 1, 0, [
              {offset: 0, color: '#ff0000'}, {offset: 0.5, color: '#ffffff'}, {offset: 1, color: '#0000ff'}
            ]),
            stroke: AXIS_GRAY, lineWidth: 1.4
          }
        };
      }
    }
  ]
});
</script>
</body></html>
